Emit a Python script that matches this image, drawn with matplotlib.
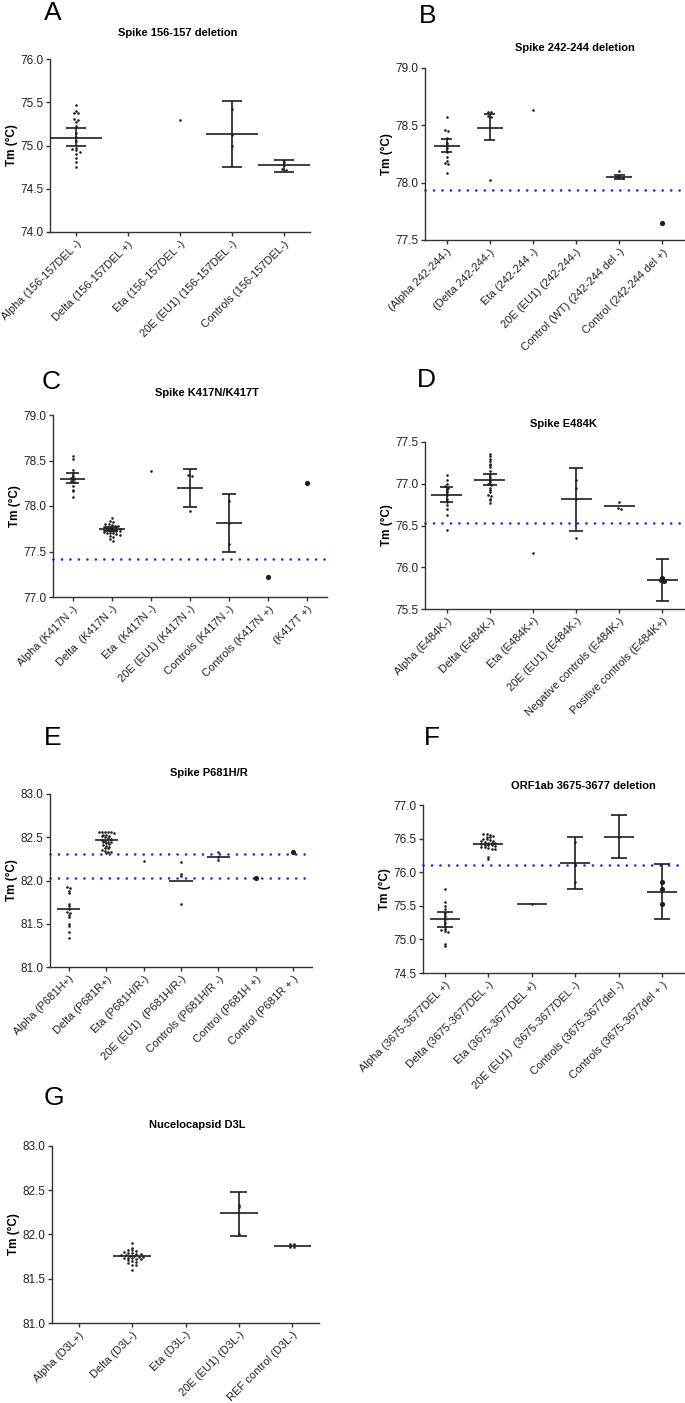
import numpy as np
import matplotlib

matplotlib.use("Agg")
import matplotlib.pyplot as plt

plt.rcParams["font.family"] = ["Liberation Sans", "DejaVu Sans"]

W, H = 685, 1403
INK = "#1e1e1e"
BLUE = "#1f1fff"

# ---------------- A
A_TITLE = "Spike 156-157 deletion"
A_LABELS = ["Alpha (156-157DEL -)", "Delta (156-157DEL +)", "Eta (156-157DEL -)",
            "20E (EU1) (156-157DEL -)", "Controls (156-157DEL-)"]
A_POINTS = [
    [75.47, 75.40, 75.37, 75.37, 75.31, 75.29, 75.27, 75.22, 75.15, 75.10,
     75.05, 74.97, 74.96, 74.95, 74.93, 74.90, 74.86, 74.81, 74.75],
    [],
    [75.30],
    [75.42, 75.12, 74.99],
    [74.81, 74.78, 74.73, 74.72],
]
A_MEAN = [75.09, None, None, 75.13, 74.77]
A_ERR = [(74.99, 75.20), None, None, (74.75, 75.51), (74.69, 74.83)]
A_REF = []
A_YTICKS = [74.0, 74.5, 75.0, 75.5, 76.0]

# ---------------- B
B_TITLE = "Spike 242-244 deletion"
B_LABELS = ["(Alpha 242-244-)", "(Delta 242-244-)", "Eta (242-244 -)",
            "20E (EU1) (242-244-)", "Control (WT) (242-244 del -)", "Control (242-244 del +)"]
B_POINTS = [
    [78.57, 78.46, 78.45, 78.39, 78.35, 78.33, 78.30, 78.27, 78.22, 78.19,
     78.17, 78.16, 78.08],
    [78.62, 78.62, 78.58, 78.57, 78.02],
    [78.63],
    [],
    [78.10, 78.05, 78.05, 78.04],
    [77.65],
]
B_MEAN = [78.32, 78.48, None, None, 78.05, None]
B_ERR = [(78.27, 78.38), (78.37, 78.60), None, None, (78.03, 78.07), None]
B_REF = [77.94]
B_YTICKS = [77.5, 78.0, 78.5, 79.0]

# ---------------- C
C_TITLE = "Spike K417N/K417T"
C_LABELS = ["Alpha (K417N -)", "Delta  (K417N -)", "Eta  (K417N -)", "20E (EU1) (K417N -)",
            "Controls (K417N -)", "Controls (K417N +)", "(K417T +)"]
C_POINTS = [
    [78.55, 78.52, 78.40, 78.36, 78.33, 78.31, 78.30, 78.28, 78.26, 78.22,
     78.18, 78.16, 78.10],
    [77.87, 77.84, 77.82, 77.80, 77.80, 77.79, 77.78, 77.78, 77.77, 77.76,
     77.76, 77.75, 77.75, 77.75, 77.74, 77.74, 77.73, 77.73, 77.72, 77.72,
     77.71, 77.70, 77.70, 77.70, 77.69, 77.68, 77.67, 77.66, 77.64, 77.62],
    [78.38],
    [78.34, 78.33, 77.94],
    [78.05, 77.81, 77.58],
    [77.22],
    [78.25],
]
C_MEAN = [78.30, 77.75, None, 78.20, 77.81, None, None]
C_ERR = [(78.25, 78.36), (77.73, 77.77), None, (77.99, 78.41), (77.50, 78.13), None, None]
C_REF = [77.42]
C_YTICKS = [77.0, 77.5, 78.0, 78.5, 79.0]

# ---------------- D
D_TITLE = "Spike E484K"
D_LABELS = ["Alpha (E484K-)", "Delta (E484K-)", "Eta (E484K+)", "20E (EU1) (E484K-)",
            "Negative controls (E484K-)", "Positive controls (E484K+)"]
D_POINTS = [
    [77.10, 77.05, 77.00, 76.97, 76.95, 76.93, 76.90, 76.87, 76.82, 76.78,
     76.74, 76.70, 76.62, 76.45],
    [77.36, 77.33, 77.30, 77.27, 77.24, 77.22, 77.20, 77.15, 77.12, 77.08,
     77.05, 77.02, 77.00, 76.98, 76.95, 76.92, 76.90, 76.87, 76.85, 76.82,
     76.80, 76.77],
    [76.17],
    [77.05, 76.95, 76.82, 76.35],
    [76.78, 76.71, 76.70],
    [75.87, 75.85, 75.83],
]
D_MEAN = [76.87, 77.05, None, 76.82, 76.73, 75.85]
D_ERR = [(76.78, 76.96), (76.98, 77.12), None, (76.44, 77.19), None, (75.59, 76.10)]
D_REF = [76.53]
D_YTICKS = [75.5, 76.0, 76.5, 77.0, 77.5]

# ---------------- E
E_TITLE = "Spike P681H/R"
E_LABELS = ["Alpha (P681H+)", "Delta (P681R+)", "Eta (P681H/R-)", "20E (EU1)  (P681H/R-)",
            "Controls (P681H/R -)", "Control (P681H +)", "Control (P681R + )"]
E_POINTS = [
    [81.93, 81.91, 81.88, 81.85, 81.73, 81.70, 81.67, 81.64, 81.62, 81.60,
     81.58, 81.50, 81.47, 81.41, 81.33],
    [82.56, 82.56, 82.56, 82.56, 82.56, 82.55, 82.53, 82.53, 82.52, 82.51,
     82.50, 82.49, 82.48, 82.47, 82.46, 82.45, 82.45, 82.44, 82.43, 82.42,
     82.41, 82.40, 82.39, 82.38, 82.37, 82.35, 82.34, 82.33, 82.33, 82.32],
    [82.22],
    [82.21, 82.08, 82.05, 81.73],
    [82.33, 82.27, 82.24],
    [82.03],
    [82.33],
]
E_MEAN = [81.67, 82.47, None, 82.00, 82.27, None, None]
E_ERR = [None, None, None, None, None, None, None]
E_REF = [82.31, 82.03]
E_YTICKS = [81.0, 81.5, 82.0, 82.5, 83.0]

# ---------------- F
F_TITLE = "ORF1ab 3675-3677 deletion"
F_LABELS = ["Alpha (3675-3677DEL +)", "Delta (3675-3677DEL -)", "Eta (3675-3677DEL +)",
            "20E (EU1)  (3675-3677DEL -)", "Controls (3675-3677del -)",
            "Controls (3675-3677del + )"]
F_POINTS = [
    [75.75, 75.55, 75.50, 75.45, 75.40, 75.35, 75.30, 75.25, 75.18, 75.16,
     75.14, 75.12, 75.11, 74.93, 74.90],
    [76.57, 76.57, 76.55, 76.54, 76.53, 76.52, 76.50, 76.49, 76.48, 76.47,
     76.46, 76.45, 76.44, 76.43, 76.43, 76.42, 76.41, 76.41, 76.40, 76.39,
     76.38, 76.37, 76.36, 76.35, 76.35, 76.22, 76.20],
    [75.52],
    [76.45, 76.10, 75.85],
    [76.53],
    [75.85, 75.75, 75.53],
]
F_MEAN = [75.30, 76.42, 75.52, 76.14, 76.53, 75.71]
F_ERR = [(75.19, 75.41), None, None, (75.75, 76.53), (76.21, 76.85), (75.30, 76.12)]
F_REF = [76.10]
F_YTICKS = [74.5, 75.0, 75.5, 76.0, 76.5, 77.0]

# ---------------- G
G_TITLE = "Nucelocapsid D3L"
G_LABELS = ["Alpha (D3L+)", "Delta (D3L-)", "Eta (D3L-)", "20E (EU1) (D3L-)",
            "REF control (D3L-)"]
G_POINTS = [
    [],
    [81.90, 81.85, 81.83, 81.82, 81.81, 81.80, 81.79, 81.79, 81.78, 81.78,
     81.77, 81.77, 81.76, 81.76, 81.75, 81.75, 81.74, 81.74, 81.73, 81.72,
     81.72, 81.71, 81.70, 81.69, 81.68, 81.66, 81.65, 81.60],
    [],
    [82.33, 82.31, 82.01],
    [81.89, 81.89, 81.86, 81.86],
]
G_MEAN = [None, 81.76, None, 82.24, 81.87]
G_ERR = [None, None, None, (81.98, 82.48), None]
G_REF = []
G_YTICKS = [81.0, 81.5, 82.0, 82.5, 83.0]


def swarm(vals, step, dx):
    vals = np.asarray(vals, dtype=float)
    offs = np.zeros(len(vals))
    bins = np.round(vals / step)
    for b in np.unique(bins):
        idx = np.where(bins == b)[0]
        k = len(idx)
        offs[idx] = (np.arange(k) - (k - 1) / 2) * dx
    return offs


fig = plt.figure(figsize=(W / 100, H / 100), dpi=100)


def draw_panel(box, letter, letter_xy, title, title_xy, labels, points, means, errs,
               refs, yticks, mean_hw=0.35, cap_hw=0.16, big=()):
    l, r, t, b = box
    ax = fig.add_axes([l / W, 1 - b / H, (r - l) / W, (b - t) / H])
    n = len(labels)
    ax.set_xlim(-0.5, n - 0.5)
    ax.set_ylim(yticks[0], yticks[-1])
    for y in refs:
        ax.axhline(y, color=BLUE, lw=1.9, ls=(0, (0.01, 3.2)), dash_capstyle="round",
                   zorder=1, clip_on=False)
    step = (yticks[-1] - yticks[0]) * 0.016
    for i, vals in enumerate(points):
        if vals:
            xs = swarm(vals, step, 0.08)
            ax.scatter(i + xs, vals, s=14 if i in big else 3.5, color=INK, lw=0, zorder=3)
        if means[i] is not None:
            ax.hlines(means[i], i - mean_hw, i + mean_hw, color=INK, lw=1.2, zorder=4)
        if errs[i] is not None:
            lo, hi = errs[i]
            ax.vlines(i, lo, hi, color=INK, lw=1.2, zorder=4)
            ax.hlines([lo, hi], i - cap_hw, i + cap_hw, color=INK, lw=1.2, zorder=4)
    ax.set_yticks(yticks)
    ax.set_yticklabels([f"{v:.1f}" for v in yticks])
    ax.set_xticks(range(n))
    ax.set_xticklabels(labels, rotation=45, ha="right", rotation_mode="anchor")
    for side in ("top", "right"):
        ax.spines[side].set_visible(False)
    for side in ("left", "bottom"):
        ax.spines[side].set_color("#333333")
        ax.spines[side].set_linewidth(1.0)
    ax.tick_params(length=3, width=1, color="#333333", labelsize=8, labelcolor="#222222", pad=2)
    ax.tick_params(axis="y", labelsize=8.5)
    ax.set_ylabel("Tm (°C)", fontsize=8.5, fontweight="bold", va="center")
    ax.yaxis.set_label_coords(-38 / (r - l), 0.5)
    fig.text(letter_xy[0] / W, 1 - letter_xy[1] / H, letter, fontsize=19,
             ha="left", va="center")
    fig.text(title_xy[0] / W, 1 - title_xy[1] / H, title, fontsize=8,
             fontweight="bold", ha="center", va="center")
    return ax


draw_panel((50, 310, 59, 232), "A", (44, 13), A_TITLE, (178, 33), A_LABELS, A_POINTS,
           A_MEAN, A_ERR, A_REF, A_YTICKS, mean_hw=0.5, cap_hw=0.2)
draw_panel((425, 684, 68, 240), "B", (419, 16), B_TITLE, (575, 48), B_LABELS, B_POINTS,
           B_MEAN, B_ERR, B_REF, B_YTICKS, mean_hw=0.3, cap_hw=0.13, big=(5,))
draw_panel((53, 327, 415, 597), "C", (42, 382), C_TITLE, (207, 393), C_LABELS, C_POINTS,
           C_MEAN, C_ERR, C_REF, C_YTICKS, mean_hw=0.33, cap_hw=0.17, big=(5, 6))
draw_panel((425, 684, 442, 609), "D", (417, 380), D_TITLE, (563, 424), D_LABELS, D_POINTS,
           D_MEAN, D_ERR, D_REF, D_YTICKS, mean_hw=0.36, cap_hw=0.16, big=(5,))
draw_panel((50, 312, 794, 967), "E", (44, 738), E_TITLE, (209, 773), E_LABELS, E_POINTS,
           E_MEAN, E_ERR, E_REF, E_YTICKS, mean_hw=0.31, cap_hw=0.15, big=(5, 6))
draw_panel((423, 684, 805, 973), "F", (424, 738), F_TITLE, (583, 786), F_LABELS, F_POINTS,
           F_MEAN, F_ERR, F_REF, F_YTICKS, mean_hw=0.34, cap_hw=0.18, big=(5,))
draw_panel((52, 319, 1146, 1323), "G", (44, 1098), G_TITLE, (197, 1125), G_LABELS, G_POINTS,
           G_MEAN, G_ERR, G_REF, G_YTICKS, mean_hw=0.35, cap_hw=0.16)

fig.savefig("out.png", dpi=100, facecolor="white")
